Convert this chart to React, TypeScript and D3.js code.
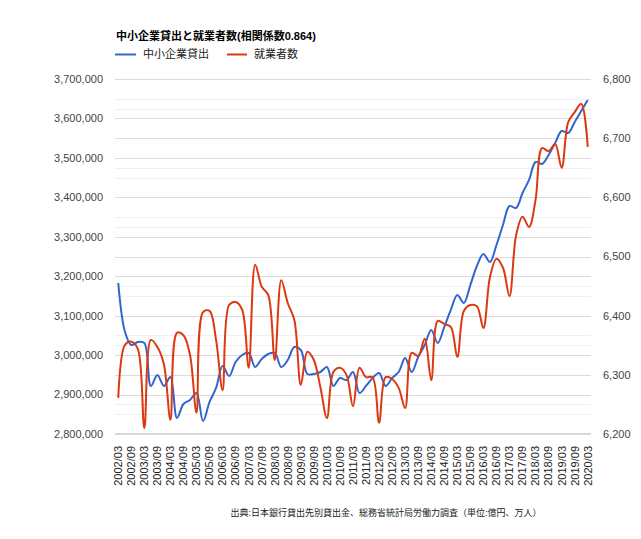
import React from 'react';
import * as d3 from 'd3';

const categories = [
  '2002/03','2002/06','2002/09','2002/12',
  '2003/03','2003/06','2003/09','2003/12',
  '2004/03','2004/06','2004/09','2004/12',
  '2005/03','2005/06','2005/09','2005/12',
  '2006/03','2006/06','2006/09','2006/12',
  '2007/03','2007/06','2007/09','2007/12',
  '2008/03','2008/06','2008/09','2008/12',
  '2009/03','2009/06','2009/09','2009/12',
  '2010/03','2010/06','2010/09','2010/12',
  '2011/03','2011/06','2011/09','2011/12',
  '2012/03','2012/06','2012/09','2012/12',
  '2013/03','2013/06','2013/09','2013/12',
  '2014/03','2014/06','2014/09','2014/12',
  '2015/03','2015/06','2015/09','2015/12',
  '2016/03','2016/06','2016/09','2016/12',
  '2017/03','2017/06','2017/09','2017/12',
  '2018/03','2018/06','2018/09','2018/12',
  '2019/03','2019/06','2019/09','2019/12',
  '2020/03',
];

// 中小企業貸出 (億円)
const loans = [
  3182800, 3061000, 3025700, 3033300,
  3030800, 2921800, 2949600, 2921800,
  2944600, 2840600, 2876100, 2886200,
  2904000, 2833000, 2881200, 2916700,
  2972400, 2947100, 2982600, 3000300,
  3005400, 2969900, 2990200, 3002800,
  3005400, 2969900, 2987600, 3020600,
  3013000, 2952100, 2952100, 2957200,
  2969900, 2921800, 2942000, 2936900,
  2957200, 2904000, 2921800, 2942000,
  2954700, 2921800, 2942000, 2957200,
  2992700, 2957200, 2995200, 3025700,
  3063700, 3030800, 3071300, 3114400,
  3152400, 3132100, 3177800, 3225900,
  3256300, 3236100, 3279200, 3329900,
  3378000, 3373000, 3411000, 3444000,
  3489600, 3484500, 3507300, 3537700,
  3568200, 3563100, 3591000, 3618900,
  3646800,
];

// 就業者数 (万人)
const employed = [
  6261, 6350, 6356, 6344,
  6210, 6359, 6347, 6318,
  6224, 6371, 6367, 6334,
  6236, 6406, 6408, 6359,
  6274, 6418, 6423, 6410,
  6312, 6486, 6449, 6435,
  6325, 6460, 6421, 6393,
  6283, 6339, 6325, 6279,
  6227, 6305, 6312, 6300,
  6247, 6312, 6296, 6296,
  6219, 6296, 6293, 6278,
  6244, 6337, 6332, 6361,
  6291, 6391, 6386, 6381,
  6330, 6408, 6418, 6416,
  6379, 6465, 6496, 6481,
  6433, 6535, 6567, 6550,
  6596, 6683, 6678, 6690,
  6650, 6727, 6744, 6758,
  6685,
];

const leftTicks = [2800000, 2900000, 3000000, 3100000, 3200000, 3300000, 3400000, 3500000, 3600000, 3700000];
const leftMinorTicks = [2850000, 2950000, 3050000, 3150000, 3250000, 3350000, 3450000, 3550000, 3650000];
const rightTicks = [6200, 6300, 6400, 6500, 6600, 6700, 6800];
const rightMinorTicks = [6250, 6350, 6450, 6550, 6650, 6750];

const seriesNames = ['中小企業貸出', '就業者数'];
const seriesColors = ['#3366cc', '#dc3912'];
const titleText = '中小企業貸出と就業者数(相関係数0.864)';
const footerText = '出典:日本銀行貸出先別貸出金、総務省統計局労働力調査（単位:億円、万人）';

const FONT = "Arial, 'Liberation Sans', 'Noto Sans CJK JP', sans-serif";

export default function App() {
  const W = 641, H = 539;
  const left = 115, right = 591, top = 79, bottom = 434;

  const x = d3.scaleBand<string>().domain(categories).range([left, right]);
  const xc = (c: string) => (x(c) as number) + x.bandwidth() / 2;
  const yL = d3.scaleLinear().domain([2800000, 3700000]).range([bottom, top]);
  const yR = d3.scaleLinear().domain([6200, 6800]).range([bottom, top]);
  const fmt = d3.format(',');

  const lineL = d3.line<number>()
    .x((_, i) => xc(categories[i]))
    .y((d) => yL(d))
    .curve(d3.curveCatmullRom.alpha(0.5));
  const lineR = d3.line<number>()
    .x((_, i) => xc(categories[i]))
    .y((d) => yR(d))
    .curve(d3.curveCatmullRom.alpha(0.5));

  const labelCats = categories.filter((_, i) => i % 2 === 0);
  const gy = (v: number) => Math.round(v) + 0.5;

  return (
    <svg width={W} height={H} style={{ position: 'absolute', left: 0, top: 0, background: '#fff' }} fontFamily={FONT}>
      <rect x={0} y={0} width={W} height={H} fill="#fff" />
      {/* minor gridlines */}
      {leftMinorTicks.map((t) => (
        <line key={'lm' + t} x1={left} x2={right} y1={gy(yL(t))} y2={gy(yL(t))} stroke="#f0f0f0" />
      ))}
      {rightMinorTicks.map((t) => (
        <line key={'rm' + t} x1={left} x2={right} y1={gy(yR(t))} y2={gy(yR(t))} stroke="#f0f0f0" />
      ))}
      {/* major gridlines */}
      {leftTicks.map((t) => (
        <line key={'lM' + t} x1={left} x2={right} y1={gy(yL(t))} y2={gy(yL(t))} stroke="#dcdcdc" />
      ))}
      {rightTicks.map((t) => (
        <line key={'rM' + t} x1={left} x2={right} y1={gy(yR(t))} y2={gy(yR(t))} stroke="#dcdcdc" />
      ))}
      <line x1={left} x2={right} y1={bottom} y2={bottom} stroke="#d8d8d8" strokeWidth={2} />

      {/* left axis labels */}
      {leftTicks.map((t) => (
        <text key={'lt' + t} x={103} y={yL(t)} dy="0.35em" textAnchor="end" fontSize={11} fill="#444">{fmt(t)}</text>
      ))}
      {/* right axis labels */}
      {rightTicks.map((t) => (
        <text key={'rt' + t} x={603} y={yR(t)} dy="0.35em" textAnchor="start" fontSize={11} fill="#444">{fmt(t)}</text>
      ))}
      {/* x labels */}
      {labelCats.map((c) => (
        <text key={'x' + c} transform={`translate(${xc(c)},446) rotate(-90)`} dy="0.35em" textAnchor="end" fontSize={11} fill="#222">{c}</text>
      ))}

      {/* lines */}
      <path d={lineL(loans) || ''} fill="none" stroke={seriesColors[0]} strokeWidth={2} />
      <path d={lineR(employed) || ''} fill="none" stroke={seriesColors[1]} strokeWidth={2} />

      {/* title */}
      <text x={116} y={40} fontSize={11} fontWeight="bold" fill="#000">{titleText}</text>
      {/* legend */}
      <line x1={115} x2={136} y1={54.5} y2={54.5} stroke={seriesColors[0]} strokeWidth={2} />
      <text x={143} y={54.5} dy="0.35em" fontSize={11} fill="#222">{seriesNames[0]}</text>
      <line x1={227} x2={247} y1={54.5} y2={54.5} stroke={seriesColors[1]} strokeWidth={2} />
      <text x={254} y={54.5} dy="0.35em" fontSize={11} fill="#222">{seriesNames[1]}</text>

      {/* footer */}
      <text x={386} y={513} dy="0.35em" textAnchor="middle" fontSize={9} fill="#222">{footerText}</text>
    </svg>
  );
}
